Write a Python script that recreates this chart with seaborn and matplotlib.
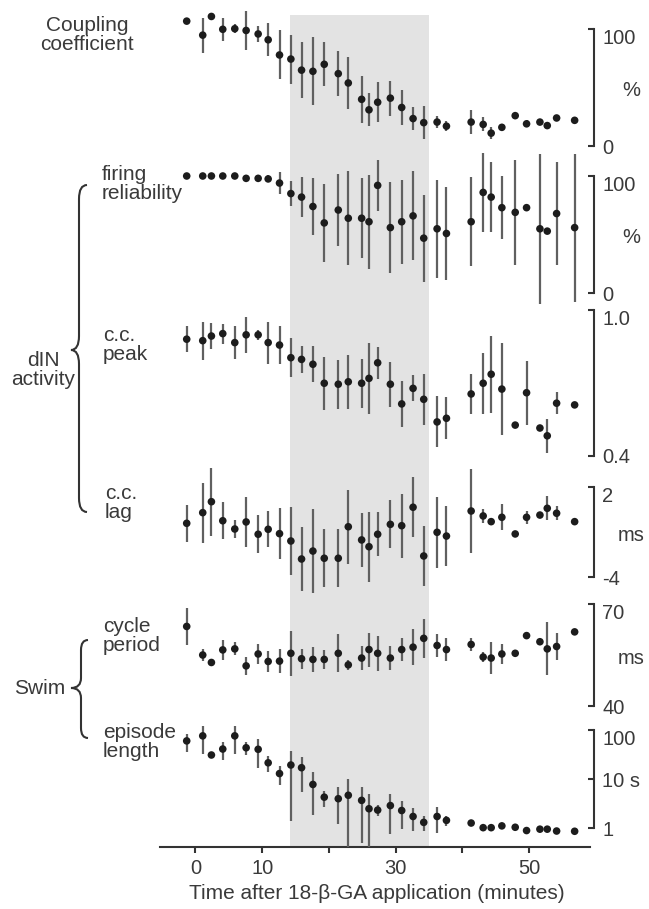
import matplotlib
matplotlib.use("Agg")
import matplotlib.pyplot as plt
import seaborn as sns
import numpy as np
import pandas as pd
from matplotlib.path import Path
from matplotlib.patches import PathPatch

sns.set_theme(style="white")
plt.rcParams['font.family'] = ['Liberation Sans', 'DejaVu Sans']

# time of each measurement (minutes after 18-beta-GA application)
minutes = [-1.3, 1.1, 2.4, 4.1, 5.9, 7.6, 9.4, 10.9, 12.6, 14.3, 15.9, 17.6,
           19.3, 21.4, 22.9, 24.9, 26.0, 27.3, 29.2, 30.9, 32.6, 34.2, 36.2,
           37.6, 41.3, 43.1, 44.3, 45.9, 47.9, 49.6, 51.6, 52.7, 54.1, 56.8]
drug_window = (14.2, 35.0)

coupling = [107, 95, 111, 100, 100.5, 99, 96, 91, 78, 74.5, 65, 64, 70, 62, 54,
            40, 31, 37.5, 41, 33, 23.5, 20, 20.5, 17, 20.5, 18.5, 11, 16, 26,
            19, 20.5, 17.5, 24, 22]
coupling_err = [0, 15, 0, 10, 4, 17, 7, 14, 21, 21, 24, 29, 19, 19, 22, 20, 14,
                17, 15, 15, 10, 14, 5, 4, 10, 6, 5, 3, 0, 3, 0, 3, 0, 0]

firing = [100, 100, 100, 100, 100, 98, 98, 97.5, 94, 85, 82, 74, 60, 71, 64,
          64, 61, 92, 56, 61, 66, 47, 55, 51, 61, 86, 82, 73, 69, 73, 55, 53,
          68, 56]
firing_err = [0, 0, 0, 0, 0, 0, 0, 3, 9, 11, 17, 24, 33, 31, 40, 34, 40, 22,
              39, 36, 38, 37, 42, 40, 38, 34, 30, 27, 45, 0, 64, 0, 44, 63]

cc_peak = [0.880, 0.874, 0.893, 0.903, 0.866, 0.898, 0.898, 0.866, 0.856,
           0.804, 0.797, 0.777, 0.699, 0.695, 0.705, 0.699, 0.719, 0.783,
           0.695, 0.614, 0.678, 0.633, 0.540, 0.555, 0.655, 0.699, 0.736,
           0.675, 0.527, 0.660, 0.515, 0.483, 0.617, 0.610]
cc_peak_err = [0.053, 0.078, 0.054, 0.041, 0.069, 0.074, 0.02, 0.086, 0.078,
               0.081, 0.057, 0.074, 0.108, 0.101, 0.11, 0.101, 0.145, 0.066,
               0.093, 0.093, 0.054, 0.105, 0.105, 0.086, 0.081, 0.125, 0.158,
               0.189, 0, 0.131, 0, 0.07, 0.045, 0]

cc_lag = [-0.4, 0.31, 1.04, -0.23, -0.78, -0.31, -1.13, -0.8, -1.09, -1.58,
          -2.78, -2.25, -2.73, -2.73, -0.63, -1.51, -1.96, -1.13, -0.47, -0.56,
          0.67, -2.58, -1.0, -1.25, 0.42, 0.09, -0.29, 0.0, -1.11, 0.0, 0.15,
          0.6, 0.27, -0.29]
cc_lag_err = [1.22, 2.0, 2.27, 1.24, 0.6, 1.67, 1.27, 1.19, 1.7, 2.3, 2.13,
              2.78, 1.93, 1.93, 2.47, 1.8, 2.33, 1.47, 1.6, 2.13, 2.0, 2.0,
              2.37, 2.0, 2.78, 0.45, 0.25, 0.86, 0, 0.42, 0, 0.8, 0.45, 0]

cycle_period = [63.4, 55, 52.8, 56.5, 56.8, 51.8, 55.3, 53.1, 53.2, 55.5, 53.9,
                53.7, 53.7, 55.5, 52.1, 54.1, 56.6, 55.5, 54.1, 56.6, 57.3,
                59.9, 57.8, 56.6, 58.1, 54.4, 54.1, 55.3, 55.5, 60.7, 58.9,
                56.8, 57.5, 61.8]
cycle_period_err = [5.4, 1.9, 1, 3, 1.9, 2.6, 2.8, 3.2, 3.5, 6.6, 3, 3.6, 2.7,
                    5.6, 1.5, 3.6, 5, 5.2, 3.6, 3.5, 5.3, 5.8, 3.5, 3.5, 2,
                    1.5, 4.8, 3, 0, 1, 0, 7.8, 4, 0]

episode = [60, 76, 31, 41, 76, 43.5, 40.5, 21.5, 13, 19.4, 17.1, 7.8, 4.3, 4.0,
           4.7, 3.7, 2.5, 2.35, 2.9, 2.3, 1.74, 1.32, 1.74, 1.45, 1.28, 1.03,
           1.03, 1.12, 1.05, 0.90, 0.96, 0.96, 0.88, 0.87]
episode_err = [24, 43, 0, 17, 43, 13, 24, 7.7, 5.5, 18, 11.5, 5.9, 1.55, 2.8,
               5.6, 3.2, 2.6, 0.6, 2.15, 1.35, 0.85, 0.43, 0.95, 0.32, 0.15, 0,
               0, 0, 0, 0, 0, 0, 0, 0]

x_ticks = [0, 10, 20, 30, 40, 50]
x_ticklabels = ['0', '10', '', '30', '', '50']

W, H = 649, 909
TXT = '#3a3a3a'
DOT = '#1c1c1c'
BAR = '#606060'
LINE = '#333333'
FS = 14.5


def fx(px):
    return px / W


def fy(py):
    return 1 - py / H


def add_axes_px(left, top, right, bottom):
    return fig.add_axes([fx(left), fy(bottom), fx(right) - fx(left), (bottom - top) / H])


fig = plt.figure(figsize=(W / 100, H / 100), dpi=100)
XLIM = (-5.3, 59.7)

# background axes: shaded drug window + time axis
ax_bg = add_axes_px(160, 15, 594, 847)
ax_bg.set_facecolor('none')
ax_bg.axvspan(*drug_window, color='#e3e3e3', lw=0, zorder=0)
ax_bg.set_xlim(XLIM)
ax_bg.set_ylim(0, 1)
for s in ['left', 'right', 'top']:
    ax_bg.spines[s].set_visible(False)
ax_bg.spines['bottom'].set_color(LINE)
ax_bg.spines['bottom'].set_linewidth(1.5)
ax_bg.spines['bottom'].set_bounds(XLIM[0], 59.1)
ax_bg.set_yticks([])
ax_bg.set_xticks(x_ticks)
ax_bg.set_xticklabels(x_ticklabels)
ax_bg.tick_params(axis='x', bottom=True, direction='out', length=4, width=1.5,
                  colors=LINE, labelcolor=TXT, labelsize=FS, pad=5)
ax_bg.set_xlabel('Time after 18-β-GA application (minutes)', fontsize=FS + 0.5,
                 color=TXT, labelpad=4)

panels = [
    (coupling, coupling_err, (29.3, 146), (0, 100), [0, 100], ['0', '100'], '%', False),
    (firing, firing_err, (176, 293.3), (0, 100), [0, 100], ['0', '100'], '%', False),
    (cc_peak, cc_peak_err, (310, 456), (0.4, 1.0), [0.4, 1.0], ['0.4', '1.0'], '', False),
    (cc_lag, cc_lag_err, (487.3, 577.3), (-4, 2), [-4, 2], ['-4', '2'], 'ms', False),
    (cycle_period, cycle_period_err, (604, 706), (40, 70), [40, 70], ['40', '70'], 'ms', False),
    (episode, episode_err, (730, 828.3), (1, 100), [1, 10, 100], ['1', '10 s', '100'], '', True),
]

for vals, errs, (top, bot), (lo, hi), ticks, labels, unit, is_log in panels:
    df = pd.DataFrame({'t': minutes, 'v': vals, 'e': errs})
    if is_log:
        # extend axes down to the time axis so clipped bars reach it
        dec = (bot - top) / 2.0
        ymin = 10 ** (-(847 - bot) / dec)
        ymax = 10 ** (2 + (top - 715) / dec)
        ax = add_axes_px(160, 715, 594, 847)
        ax.set_yscale('log')
        ax.set_ylim(ymin, ymax)
        clip = True
    else:
        ax = add_axes_px(160, top, 594, bot)
        ax.set_ylim(lo, hi)
        clip = False
    ax.set_facecolor('none')
    ax.set_xlim(XLIM)
    ax.errorbar(df['t'], df['v'], yerr=df['e'], fmt='none', ecolor=BAR,
                elinewidth=1.6, capsize=0, clip_on=clip, zorder=2)
    sns.scatterplot(data=df, x='t', y='v', ax=ax, color=DOT, s=30,
                    edgecolor='none', linewidth=0, clip_on=clip, zorder=3,
                    legend=False)
    ax.set_xlabel('')
    ax.set_ylabel('')
    for s in ['left', 'top', 'bottom']:
        ax.spines[s].set_visible(False)
    ax.spines['right'].set_color(LINE)
    ax.spines['right'].set_linewidth(1.5)
    ax.spines['right'].set_bounds(lo, hi)
    ax.set_xticks([])
    ax.yaxis.tick_right()
    ax.set_yticks(ticks)
    ax.set_yticklabels(labels)
    ax.yaxis.set_minor_locator(matplotlib.ticker.NullLocator())
    ax.tick_params(axis='y', direction='in', length=4.5, width=1.5, colors=LINE,
                   labelcolor=TXT, labelsize=FS, pad=6)
    ticklabs = ax.get_yticklabels()
    ticklabs[-1].set_verticalalignment('top')
    if unit:
        fig.text(fx(631), fy((top + bot) / 2 + 3), unit, ha='center', va='center',
                 fontsize=FS, color=TXT)

# row labels on the left
row_labels = [
    ('Coupling\ncoefficient', 87, 35, 'center'),
    ('firing\nreliability', 102, 184, 'left'),
    ('dIN\nactivity', 43, 370, 'center'),
    ('c.c.\npeak', 103, 345, 'left'),
    ('c.c.\nlag', 105, 503, 'left'),
    ('Swim', 14, 688, 'left'),
    ('cycle\nperiod', 103, 636, 'left'),
    ('episode\nlength', 103, 742, 'left'),
]
for txt, px, py, ha in row_labels:
    fig.text(fx(px), fy(py), txt, ha=ha, va='center', fontsize=FS + 0.5,
             color=TXT, linespacing=1.05)


def draw_brace(stem, tip, end, y_top, y_mid, y_bot, r=12):
    pts = [(end, y_top), (stem, y_top), (stem, y_top + r),
           (stem, y_mid - r), (stem, y_mid), (tip, y_mid),
           (stem, y_mid), (stem, y_mid + r),
           (stem, y_bot - r), (stem, y_bot), (end, y_bot)]
    codes = [Path.MOVETO, Path.CURVE3, Path.CURVE3,
             Path.LINETO, Path.CURVE3, Path.CURVE3,
             Path.CURVE3, Path.CURVE3,
             Path.LINETO, Path.CURVE3, Path.CURVE3]
    verts = [(fx(a), fy(b)) for a, b in pts]
    patch = PathPatch(Path(verts, codes), transform=fig.transFigure,
                      fill=False, edgecolor=LINE, lw=1.5)
    fig.patches.append(patch)


draw_brace(79, 71, 87, 185, 350, 512, r=14)
draw_brace(81, 71, 88, 640, 688, 738, r=10)

fig.savefig('out.png', dpi=100)
